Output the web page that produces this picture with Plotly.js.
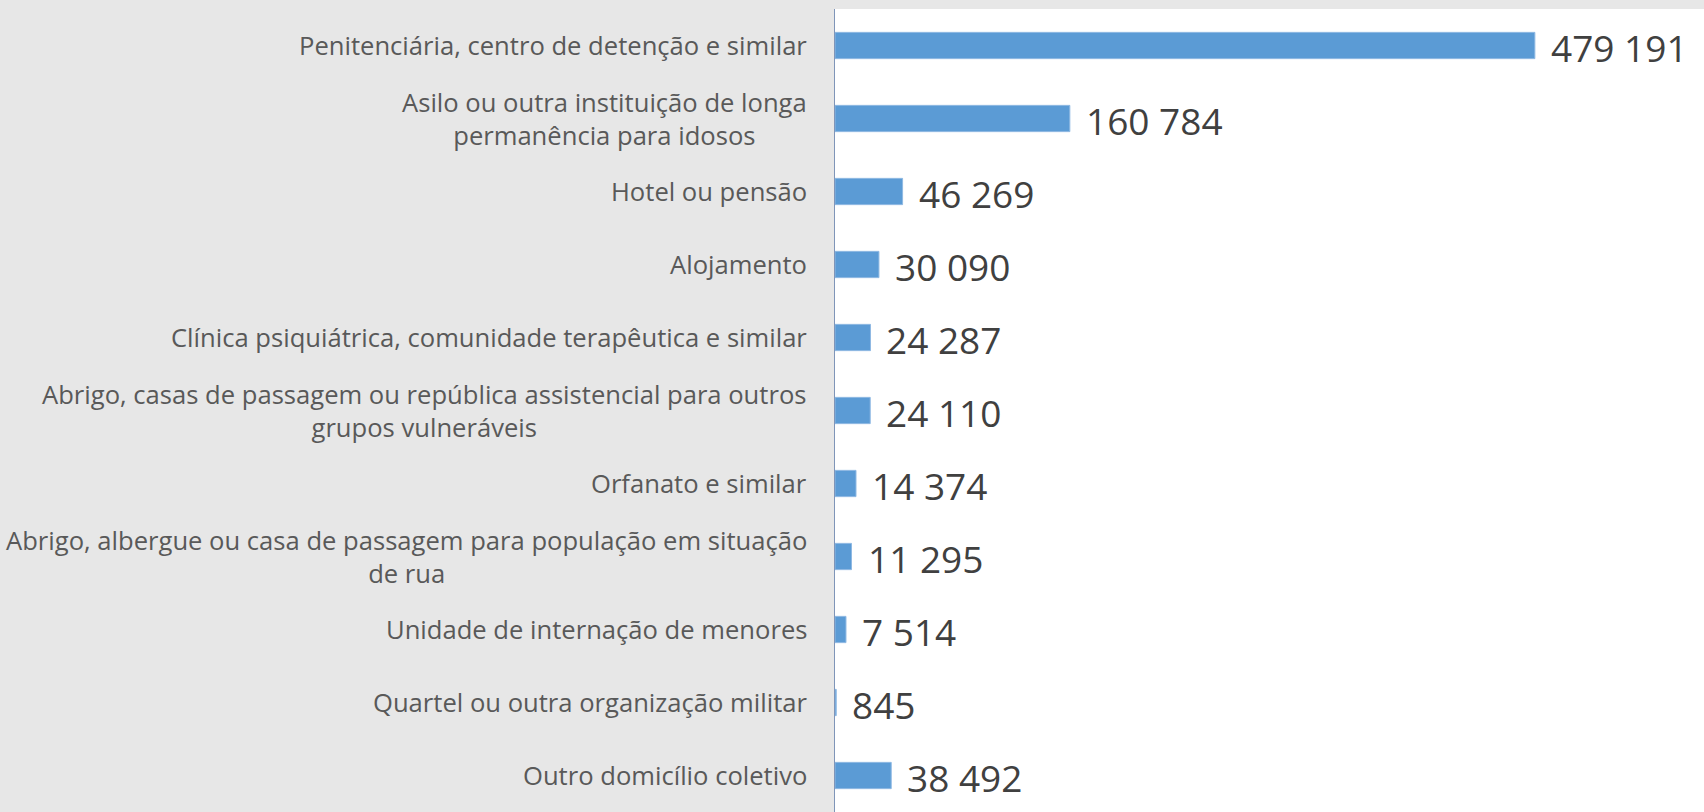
<!DOCTYPE html>
<html>
<head>
<meta charset="utf-8">
<script src="https://cdn.plot.ly/plotly-3.0.1.min.js"></script>
<style>
html,body{margin:0;padding:0;background:#e7e7e7;}
#chart{width:1704px;height:812px;}
</style>
</head>
<body>
<div id="chart"></div>
<script>
const categories = [
  "Penitenciária, centro de detenção e similar",
  "Asilo ou outra instituição de longa<br>permanência para idosos",
  "Hotel ou pensão",
  "Alojamento",
  "Clínica psiquiátrica, comunidade terapêutica e similar",
  "Abrigo, casas de passagem ou república assistencial para outros<br>grupos vulneráveis",
  "Orfanato e similar",
  "Abrigo, albergue ou casa de passagem para população em situação<br>de rua",
  "Unidade de internação de menores",
  "Quartel ou outra organização militar",
  "Outro domicílio coletivo"
];
const values = [479191, 160784, 46269, 30090, 24287, 24110, 14374, 11295, 7514, 845, 38492];

function fmt(v) {
  return String(v).replace(/\B(?=(\d{3})+(?!\d))/g, ' ');
}

const trace = {
  type: 'bar',
  orientation: 'h',
  y: categories,
  x: values,
  marker: { color: '#5b9bd5', line: { color: '#8fb9e3', width: 1 } },
  hoverinfo: 'x+y'
};

const annotations = [];
categories.forEach((c, i) => {
  annotations.push({
    xref: 'paper', yref: 'y', x: 0, y: c,
    xanchor: 'right', yanchor: 'middle',
    xshift: -26,
    text: c, align: 'center', showarrow: false,
    font: { family: 'Open Sans, sans-serif', size: 25.6, color: '#595959' }
  });
  annotations.push({
    xref: 'x', yref: 'y', x: values[i], y: c,
    xanchor: 'left', yanchor: 'middle',
    xshift: 14, yshift: -2,
    text: fmt(values[i]), showarrow: false,
    font: { family: 'Open Sans, sans-serif', size: 37, color: '#404040' }
  });
});

const layout = {
  width: 1704, height: 812,
  margin: { l: 835, r: 0, t: 9, b: 0, pad: 0 },
  paper_bgcolor: '#e7e7e7',
  plot_bgcolor: '#ffffff',
  showlegend: false,
  bargap: 0.64,
  xaxis: {
    range: [0, 595000], showgrid: false, zeroline: false,
    showticklabels: false, ticks: '', showline: false, fixedrange: true
  },
  yaxis: {
    type: 'category', autorange: 'reversed', showgrid: false, zeroline: false,
    showticklabels: false, ticks: '', showline: true, linecolor: '#7f95b8', linewidth: 1.5,
    fixedrange: true
  },
  annotations: annotations
};

Plotly.newPlot('chart', [trace], layout, { displayModeBar: false, staticPlot: true });
</script>
</body>
</html>
